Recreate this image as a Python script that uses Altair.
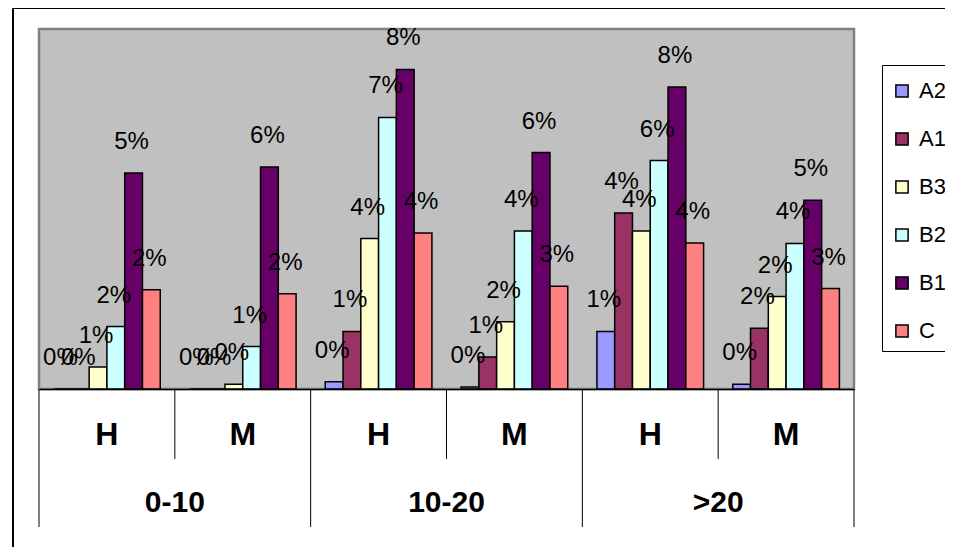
import altair as alt
import pandas as pd

# ---- data ----
groups = ["0-10", "0-10", "10-20", "10-20", ">20", ">20"]
subs = ["H", "M", "H", "M", "H", "M"]
series = ["A2", "A1", "B3", "B2", "B1", "C"]
colors = ["#9999FF", "#993366", "#FFFFCC", "#CCFFFF", "#660066", "#FF8080"]

# values in percent, one entry per category (0-10 H, 0-10 M, 10-20 H, 10-20 M, >20 H, >20 M)
A2 = [0.0, 0.0, 0.18, 0.05, 1.44, 0.12]
A1 = [0.0, 0.0, 1.44, 0.80, 4.40, 1.52]
B3 = [0.55, 0.12, 3.76, 1.68, 3.95, 2.31]
B2 = [1.56, 1.06, 6.79, 3.95, 5.71, 3.64]
B1 = [5.40, 5.55, 7.99, 5.91, 7.55, 4.72]
C = [2.48, 2.38, 3.90, 2.57, 3.65, 2.51]

series_values = {"A2": A2, "A1": A1, "B3": B3, "B2": B2, "B1": B1, "C": C}

cats = [f"{g}|{s}" for g, s in zip(groups, subs)]

rows = []
for i, cat in enumerate(cats):
    for s in series:
        rows.append({"cat": cat, "series": s, "value": series_values[s][i] / 100.0})
df = pd.DataFrame(rows)

axis_df = pd.DataFrame({"cat": cats, "grp": groups, "sub": subs})

FONT = "Liberation Sans, Arial, sans-serif"
W, H = 815, 360

x_scale = alt.Scale(domain=cats, paddingInner=0, paddingOuter=0)
x_axis = alt.Axis(labels=False, ticks=False, title=None, grid=False,
                  domainColor="black", domainWidth=1.5, zindex=1)
y_scale = alt.Scale(domain=[0, 0.09], nice=False, zero=True)


def xenc(**kw):
    return alt.X("cat:N", scale=x_scale, axis=x_axis, **kw)


xoff = alt.XOffset("series:N", scale=alt.Scale(domain=series, paddingOuter=0.82, paddingInner=0))

NB = "\u00a0" * 6

bars = alt.Chart(df).mark_bar(stroke="black", strokeWidth=1.5).encode(
    x=xenc(),
    xOffset=xoff,
    y=alt.Y("value:Q", scale=y_scale, axis=None),
    color=alt.Color(
        "series:N",
        scale=alt.Scale(domain=series, range=colors),
        legend=alt.Legend(
            orient="none", direction="vertical", legendX=843, legendY=36,
            title="\u00a0", titleFontSize=1, titlePadding=5,
            fillColor="white", strokeColor="black",
            padding=9, symbolType="square", symbolSize=150,
            symbolStrokeColor="black", symbolStrokeWidth=1.5, symbolOpacity=1,
            labelFontSize=22, labelFont=FONT, labelColor="black",
            rowPadding=26, labelOffset=6,
            labelExpr=f"datum.label + '{NB}'",
        ),
    ),
)

labels = alt.Chart(df).mark_text(
    font=FONT, fontSize=24, color="black", baseline="alphabetic", dy=-24, dx=-2
).encode(
    x=xenc(),
    xOffset=xoff,
    y=alt.Y("value:Q", scale=y_scale, axis=None),
    text=alt.Text("value:Q", format=".0%"),
)

sub_text = alt.Chart(axis_df).mark_text(
    font=FONT, fontSize=32, fontWeight="bold", color="black", baseline="middle"
).encode(
    x=xenc(),
    y=alt.YDatum(-0.0115, axis=None),
    text="sub:N",
)

grp_text = alt.Chart(axis_df).transform_filter(alt.datum.sub == "M").mark_text(
    font=FONT, fontSize=30, fontWeight="bold", color="black", baseline="middle"
).encode(
    x=xenc(bandPosition=0),
    y=alt.YDatum(-0.0285, axis=None),
    text="grp:N",
)

long_rules = alt.Chart(axis_df).transform_filter(alt.datum.sub == "H").mark_rule(
    color="black", strokeWidth=1
).encode(
    x=xenc(bandPosition=0),
    y=alt.YDatum(0, axis=None),
    y2=alt.Y2Datum(-0.0345),
)

end_rule = alt.Chart(axis_df).transform_filter(alt.datum.cat == cats[-1]).mark_rule(
    color="black", strokeWidth=1
).encode(
    x=xenc(bandPosition=1),
    y=alt.YDatum(0, axis=None),
    y2=alt.Y2Datum(-0.0345),
)

short_rules = alt.Chart(axis_df).transform_filter(alt.datum.sub == "M").mark_rule(
    color="black", strokeWidth=1
).encode(
    x=xenc(bandPosition=0),
    y=alt.YDatum(0, axis=None),
    y2=alt.Y2Datum(-0.0175),
)

# outer chart-area frame (decoration)
frame_left = alt.Chart(axis_df).mark_rule(color="black", strokeWidth=1).encode(
    x=alt.value(-26), y=alt.value(-20.5), y2=alt.value(540)
)
frame_top = alt.Chart(axis_df).mark_rule(color="black", strokeWidth=1).encode(
    x=alt.value(-26), x2=alt.value(930), y=alt.value(-20.5)
)

chart = alt.layer(
    bars, labels, sub_text, grp_text, long_rules, end_rule, short_rules,
    frame_left, frame_top,
).properties(
    width=W, height=H,
    autosize=alt.AutoSizeParams(type="none"),
    padding={"left": 31, "top": 21, "right": 91, "bottom": 158},
).configure_view(
    fill="#C0C0C0", stroke="#808080", strokeWidth=2.5
).configure_legend(
    strokeWidth=1
)

chart.save("out.html", embed_options={"renderer": "svg", "actions": False})
